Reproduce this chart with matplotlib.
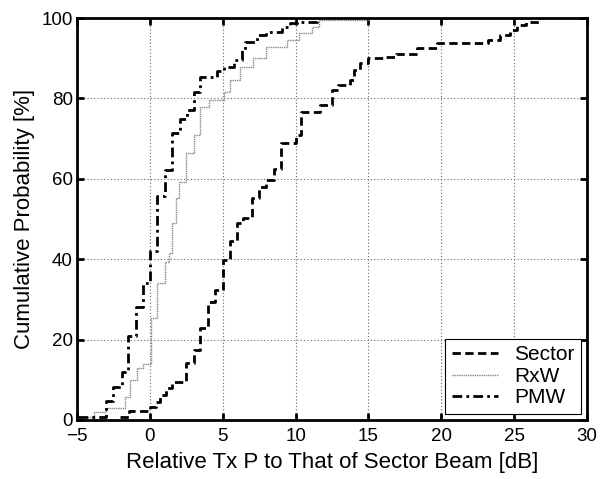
import matplotlib
matplotlib.use("Agg")
import matplotlib.pyplot as plt

plt.rcParams['font.family'] = ['Liberation Sans', 'DejaVu Sans']

# step CDFs (x in dB, y in %)
sector_x = [-2.05, -1.4, -0.1, 0.0, 0.45, 0.7, 1.1, 1.5, 2.45, 3.0, 3.47, 4.0, 4.5,
            5.0, 5.5, 6.0, 6.4, 7.0, 7.5, 8.0, 8.5, 9.0, 10.0, 10.4, 11.7, 12.5,
            12.9, 13.7, 14.0, 14.4, 15.0, 16.0, 16.9, 18.3, 19.7, 23.2, 24.0,
            24.7, 25.2, 25.8, 26.8]
sector_y = [0.8, 2.2, 2.5, 3.3, 4.5, 6.2, 7.9, 9.5, 14.2, 17.5, 22.9, 29.4, 32.3,
            39.8, 44.6, 49.0, 50.2, 55.2, 58.0, 59.7, 62.4, 68.9, 70.9, 76.7, 78.4,
            82.1, 83.3, 84.6, 87.0, 88.8, 90.0, 90.4, 91.0, 92.5, 93.7, 94.5,
            95.8, 97.0, 98.3, 99.1, 100.0]

rxw_x = [-4.9, -3.85, -3.0, -1.7, -1.37, -0.9, -0.45, 0.05, 0.5, 1.07, 1.3,
         1.5, 1.76, 1.99, 2.5, 3.0, 3.47, 4.04, 5.07, 5.5, 6.2, 7.1, 8.0, 9.4,
         10.2, 11.1, 11.6, 15.0]
rxw_y = [0.8, 2.0, 3.0, 5.8, 10.0, 12.9, 13.9, 25.3, 34.0, 39.4, 41.5, 49.0,
         55.1, 59.3, 66.3, 70.9, 77.9, 79.6, 81.7, 84.6, 87.9, 90.0, 92.9, 94.5,
         96.2, 97.8, 99.5, 100.0]

pmw_x = [-4.9, -3.0, -2.5, -1.94, -1.48, -0.96, -0.5, 0.0, 0.5, 1.07, 1.5,
         2.05, 2.56, 3.0, 3.47, 4.6, 5.07, 5.75, 6.3, 6.55, 7.35, 8.0, 9.07,
         9.6, 10.1, 11.5]
pmw_y = [0.8, 4.8, 8.3, 12.0, 21.0, 28.2, 34.0, 42.0, 55.6, 62.2, 71.3, 75.0,
         77.1, 81.7, 85.4, 86.7, 87.9, 89.6, 92.0, 94.1, 95.8, 96.6, 97.8, 98.7,
         99.1, 100.0]

x_ticks = [-5, 0, 5, 10, 15, 20, 25, 30]
y_ticks = [0, 20, 40, 60, 80, 100]

fig = plt.figure(figsize=(6.04, 4.79), dpi=100)
ax = fig.add_axes([0.1275, 0.1232, 0.8445, 0.8392])

ax.step(sector_x, sector_y, where='post', color='black', linestyle=(0, (3, 1.6)),
        linewidth=2.0, label='Sector')
ax.step(rxw_x, rxw_y, where='post', color='#888888', linestyle=(0, (1, 0.6)),
        linewidth=1.0, label='RxW')
ax.step(pmw_x, pmw_y, where='post', color='black', linestyle=(0, (3.5, 1.5, 1, 1.5)),
        linewidth=2.0, label='PMW')

ax.set_xlim(-5, 30)
ax.set_ylim(0, 100)
ax.set_xticks(x_ticks)
ax.set_yticks(y_ticks)
ax.grid(True, color='#666666', linestyle=(0, (1, 2)), linewidth=0.8)
ax.tick_params(direction='in', top=True, right=True, length=5, width=2,
               labelsize=13.5)
ax.tick_params(axis='x', pad=6)
ax.tick_params(axis='y', pad=3)
for s in ax.spines.values():
    s.set_linewidth(2)

ax.set_xlabel('Relative Tx P to That of Sector Beam [dB]', fontsize=16, labelpad=5)
ax.set_ylabel('Cumulative Probability [%]', fontsize=16, labelpad=5)

leg = ax.legend(loc='lower right', fontsize=15, handlelength=2.2, fancybox=False,
                framealpha=1, edgecolor='black', borderaxespad=0.3,
                handletextpad=0.8, labelspacing=0.12, borderpad=0.3)
leg.get_frame().set_linewidth(0.8)

fig.savefig('out.png', dpi=100)
